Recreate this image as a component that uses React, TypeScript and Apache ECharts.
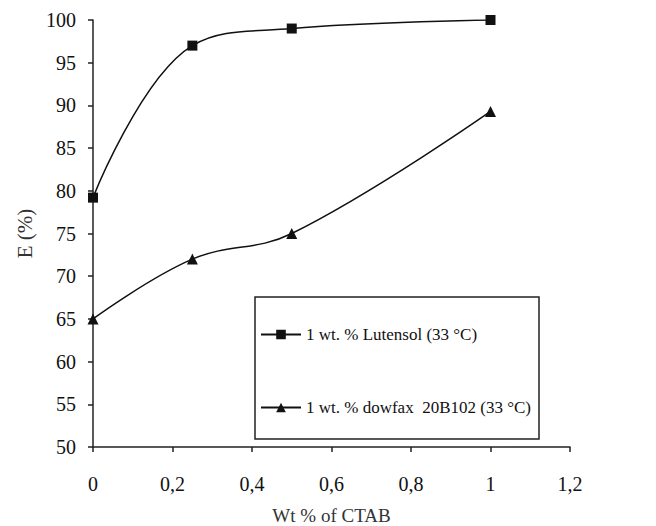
import React, { useEffect, useRef } from "react";
import * as echarts from "echarts";

const xValues = [0, 0.25, 0.5, 1];
const lutensol = [79.2, 97, 99, 100];
const dowfax = [65, 72, 75, 89.3];
const seriesNames = ["1 wt. % Lutensol (33 °C)", "1 wt. % dowfax  20B102 (33 °C)"];
const xTitle = "Wt % of CTAB";
const yTitle = "E (%)";

const FONT = "'Liberation Serif', 'DejaVu Serif', 'Times New Roman', serif";

export default function App() {
  const ref = useRef<HTMLDivElement>(null);
  useEffect(() => {
    if (!ref.current) return;
    const chart = echarts.init(ref.current, undefined, { renderer: "svg" });
    const axisCommon = {
      axisLine: { show: true, lineStyle: { color: "#222", width: 1.5 } },
      axisTick: { show: true, inside: false, length: 5, lineStyle: { color: "#222", width: 1.5 } },
      splitLine: { show: false },
      axisLabel: { color: "#111", fontFamily: FONT, fontSize: 20 },
      nameTextStyle: { color: "#333", fontFamily: FONT, fontSize: 19 },
    };
    chart.setOption({
      animation: false,
      backgroundColor: "#fff",
      textStyle: { fontFamily: FONT },
      grid: { left: 93, right: 86, top: 20, bottom: 79, outerBoundsMode: "none", containLabel: false },
      xAxis: {
        type: "value",
        min: 0,
        max: 1.2,
        interval: 0.2,
        name: xTitle,
        nameLocation: "middle",
        nameGap: 59,
        ...axisCommon,
        axisLabel: {
          ...axisCommon.axisLabel,
          margin: 27,
          formatter: (v: number) => String(Math.round(v * 10) / 10).replace(".", ","),
        },
      },
      yAxis: {
        type: "value",
        min: 50,
        max: 100,
        interval: 5,
        name: yTitle,
        nameLocation: "middle",
        nameGap: 48,
        ...axisCommon,
        nameTextStyle: { color: "#333", fontFamily: FONT, fontSize: 21 },
        axisLabel: { ...axisCommon.axisLabel, margin: 17 },
      },
      legend: {
        orient: "vertical",
        left: 255,
        top: 321,
        itemGap: 56,
        itemWidth: 40,
        itemHeight: 12,
        textStyle: { color: "#111", fontFamily: FONT, fontSize: 17 },
        data: seriesNames,
      },
      graphic: [
        {
          type: "rect",
          shape: { x: 255, y: 297, width: 284, height: 142 },
          style: { fill: "none", stroke: "#222", lineWidth: 1.5 },
          z: 10,
        },
      ],
      series: [
        {
          name: seriesNames[0],
          type: "line",
          smooth: 0.4,
          data: xValues.map((x, i) => [x, lutensol[i]]),
          symbol: "rect",
          symbolSize: 10,
          lineStyle: { color: "#111", width: 1.5 },
          itemStyle: { color: "#111" },
        },
        {
          name: seriesNames[1],
          type: "line",
          smooth: 0.4,
          data: xValues.map((x, i) => [x, dowfax[i]]),
          symbol: "triangle",
          symbolSize: 11,
          lineStyle: { color: "#111", width: 1.5 },
          itemStyle: { color: "#111" },
        },
      ],
    });
    return () => chart.dispose();
  }, []);
  return <div ref={ref} style={{ width: 656, height: 526, position: "absolute", left: 0, top: 0 }} />;
}
